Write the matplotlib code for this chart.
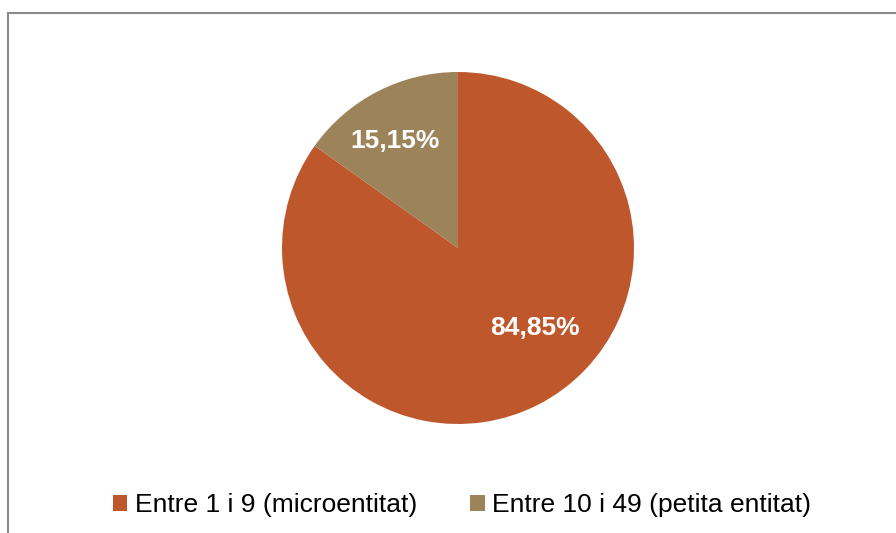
import matplotlib.pyplot as plt
from matplotlib.patches import Patch
from matplotlib.lines import Line2D

plt.rcParams['font.family'] = ['Liberation Sans', 'DejaVu Sans']

# dades
categories = ['Entre 1 i 9 (microentitat)', 'Entre 10 i 49 (petita entitat)']
values = [84.85, 15.15]
labels = ['84,85%', '15,15%']
colors = ['#BE582C', '#9C8359']

fig = plt.figure(figsize=(8.96, 5.33), dpi=100)

# marc de fons (gris, com l'original)
fig.add_artist(Line2D([8 / 896, 1.0], [1 - 13 / 533, 1 - 13 / 533],
                      color='#8a8a8a', lw=1.5, transform=fig.transFigure))
fig.add_artist(Line2D([8 / 896, 8 / 896], [0, 1 - 13 / 533],
                      color='#8a8a8a', lw=1.5, transform=fig.transFigure))

ax = fig.add_axes([282 / 896, 109 / 533, 352 / 896, 352 / 533])
wedges, _ = ax.pie(values, colors=colors, startangle=90, counterclock=False,
                   radius=1, wedgeprops=dict(linewidth=0))
ax.set_xlim(-1, 1)
ax.set_ylim(-1, 1)
ax.set_aspect('equal')
ax.axis('off')

# etiquetes de dades
label_pos = [(0.4375, -0.4545), (-0.358, 0.608)]
for (x, y), txt in zip(label_pos, labels):
    ax.text(x, y, txt, ha='center', va='center', color='white',
            fontsize=19, fontweight='bold')

handles = [Patch(facecolor=c, edgecolor='none') for c in colors]
fig.legend(handles, categories, loc='center', bbox_to_anchor=(462 / 896, 1 - 505 / 533),
           ncol=2, frameon=False, fontsize=19, handlelength=0.55, handleheight=0.55,
           handletextpad=0.3, columnspacing=2.0)

fig.savefig('out.png', dpi=100)
